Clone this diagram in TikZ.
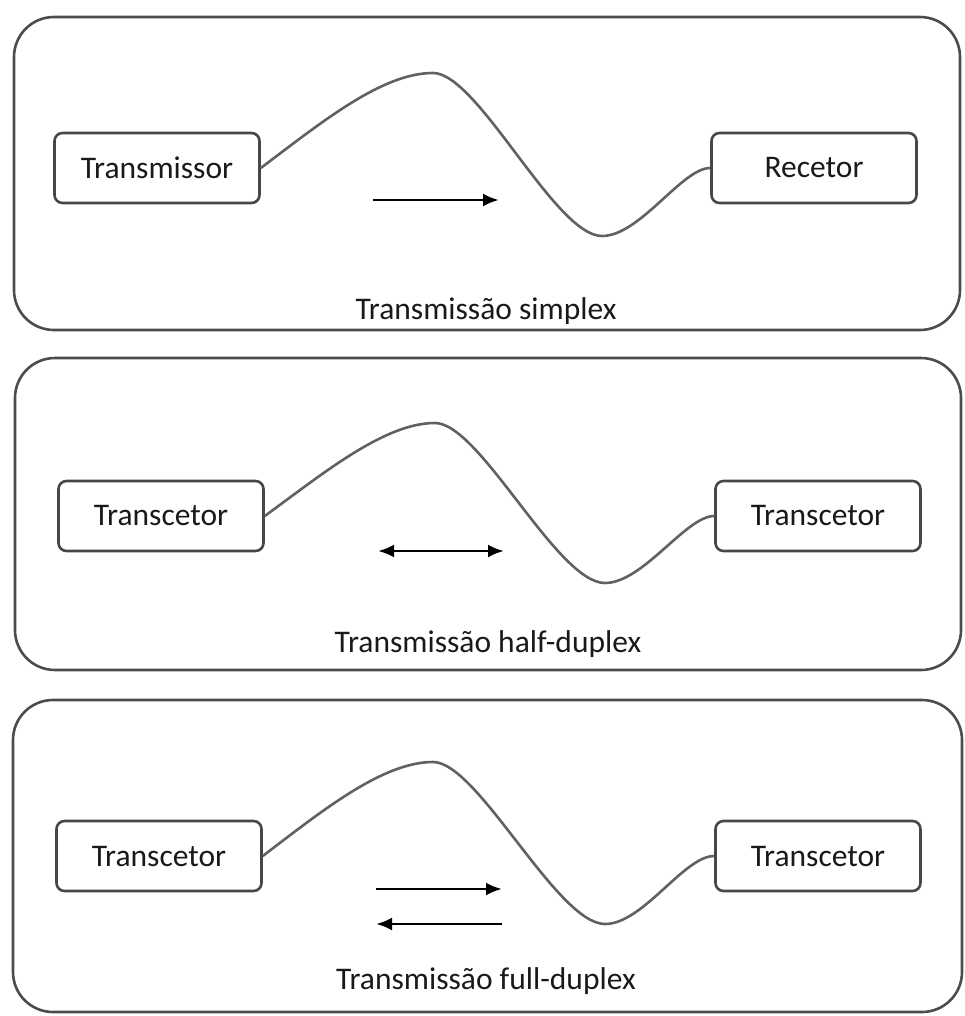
\documentclass[tikz,border=0pt]{standalone}
\usepackage{fontspec}
\setmainfont{Carlito}
\usetikzlibrary{arrows.meta}

\begin{document}
\begin{tikzpicture}
      [x=1pt,y=-1pt,
      panel/.style={draw=black!70,line width=2.6pt,rounded corners=40pt},
      device/.style={draw=black!72,line width=2.6pt,rounded corners=8pt,
        minimum width=205pt,minimum height=70pt,inner sep=0pt,
        font=\fontsize{31.5}{36}\selectfont,text=black!90},
      caption/.style={font=\fontsize{31.5}{36}\selectfont,text=black!90},
      wire/.style={draw=black!62,line width=2.6pt},
      flow/.style={line width=2.8pt,-{Latex[length=16pt,width=13pt]}}]
      \useasboundingbox (0,0) rectangle (964,1016);

      % simplex
      \draw[panel] (14,17) rectangle (960,330);
      \node[device] (tx1) at (157,168) {Transmissor};
      \node[device] (rx1) at (814,168) {Recetor};
      \draw[wire] (tx1.east) .. controls (322,122) and (382,73) .. (433,73)
        .. controls (478,73) and (555,236) .. (602,236)
        .. controls (640,236) and (682,168) .. (rx1.west);
      \coordinate (s1) at (373,200);
      \coordinate (e1) at (499,200);
      \draw[flow] (s1) -- (e1);
      \node[caption] (cap1) at (486,311) {Transmissão simplex};

      % half-duplex
      \draw[panel] (15,358) rectangle (961,670);
      \node[device] (tx2) at (161,516) {Transcetor};
      \node[device] (rx2) at (818,516) {Transcetor};
      \draw[wire] (tx2.east) .. controls (325,472) and (385,423) .. (435,423)
        .. controls (480,423) and (557,583) .. (605,583)
        .. controls (643,583) and (686,516) .. (rx2.west);
      \coordinate (s2) at (378,551);
      \coordinate (e2) at (504,551);
      \draw[flow,{Latex[length=16pt,width=13pt]}-{Latex[length=16pt,width=13pt]}] (s2) -- (e2);
      \node[caption] (cap2) at (488,644) {Transmissão half-duplex};

      % full-duplex
      \draw[panel] (13,700) rectangle (962,1012);
      \node[device] (tx3) at (159,856) {Transcetor};
      \node[device] (rx3) at (818,856) {Transcetor};
      \draw[wire] (tx3.east) .. controls (323,810) and (383,762) .. (433,762)
        .. controls (478,762) and (557,924) .. (605,924)
        .. controls (643,924) and (684,856) .. (rx3.west);
      \coordinate (s3) at (376,889);
      \coordinate (e3) at (502,889);
      \coordinate (s4) at (502,924);
      \coordinate (e4) at (376,924);
      \draw[flow] (s3) -- (e3);
      \draw[flow] (s4) -- (e4);
      \node[caption] (cap3) at (486,981) {Transmissão full-duplex};
    \end{tikzpicture}
\end{document}
